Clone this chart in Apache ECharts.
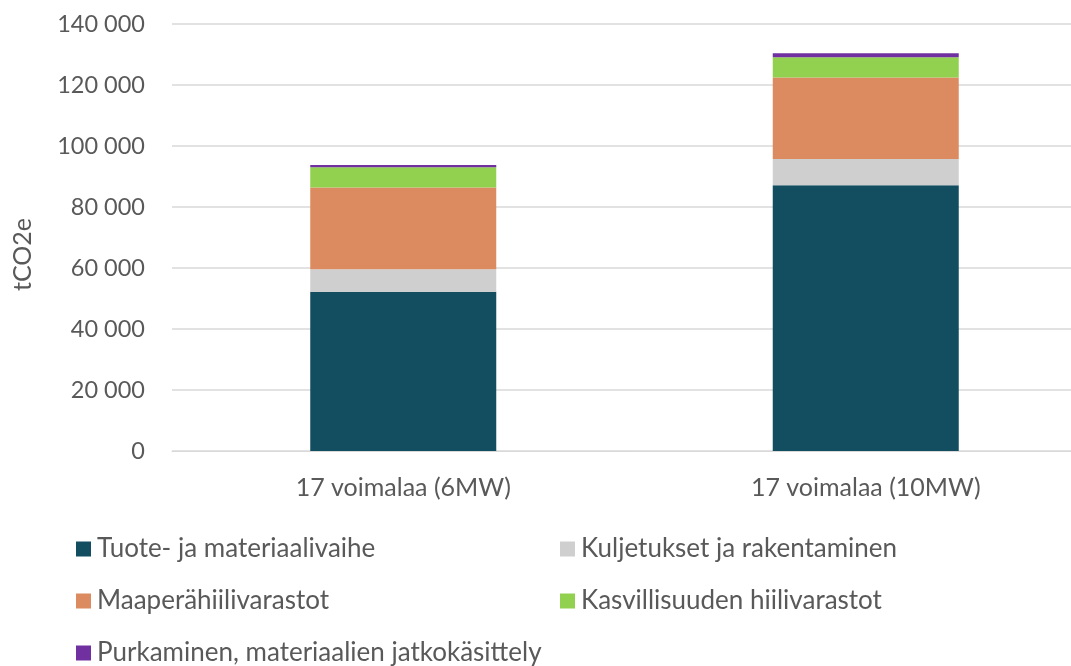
<!DOCTYPE html>
<html>
<head>
<meta charset="utf-8">
<script src="https://cdn.jsdelivr.net/npm/echarts@6/dist/echarts.min.js"></script>
<style>
  html, body { margin: 0; padding: 0; background: #ffffff; overflow: hidden; }
  /* plot area runs past the right edge of the window */
  #chart { width: 1100px; height: 666px; }
</style>
</head>
<body>
<div id="chart"></div>
<script>
// Categories and stacked emission components (tCO2e)
const categories = ['17 voimalaa (6MW)', '17 voimalaa (10MW)'];
const seriesNames = [
  'Tuote- ja materiaalivaihe',
  'Kuljetukset ja rakentaminen',
  'Maaperähiilivarastot',
  'Kasvillisuuden hiilivarastot',
  'Purkaminen, materiaalien jatkokäsittely'
];
const tuote = [52200, 87100];
const kuljetukset = [7400, 8600];
const maapera = [26800, 26800];
const kasvillisuus = [6600, 6600];
const purkaminen = [750, 1300];
const seriesValues = [tuote, kuljetukset, maapera, kasvillisuus, purkaminen];
const colors = ['#124E60', '#D0CFCF', '#DB8B5F', '#92D050', '#7030A0'];

const FONT = 'Lato';
const TEXT = '#595959';

const fmt = v => String(v).replace(/\B(?=(\d{3})+(?!\d))/g, ' ');

// Legend positions laid out in two columns
const legendPos = [
  { left: 76, top: 536 },
  { left: 560, top: 536 },
  { left: 76, top: 588 },
  { left: 560, top: 588 },
  { left: 76, top: 640 }
];

const chart = echarts.init(document.getElementById('chart'), null, { renderer: 'canvas' });
chart.setOption({
  animation: false,
  color: colors,
  grid: { left: 172, top: 24, bottom: 215, width: 925, containLabel: false },
  xAxis: {
    type: 'category',
    data: categories,
    axisLine: { lineStyle: { color: '#D9D9D9', width: 1 } },
    axisTick: { show: false },
    axisLabel: { color: TEXT, fontFamily: FONT, fontSize: 25, margin: 24 }
  },
  yAxis: {
    type: 'value',
    min: 0,
    max: 140000,
    interval: 20000,
    name: 'tCO2e',
    nameLocation: 'middle',
    nameGap: 137,
    nameTextStyle: { color: TEXT, fontFamily: FONT, fontSize: 25, padding: [0, 0, 0, -34] },
    axisLine: { show: false },
    axisTick: { show: false },
    splitLine: { lineStyle: { color: '#D9D9D9', width: 1.5 } },
    axisLabel: { color: TEXT, fontFamily: FONT, fontSize: 23.5, margin: 27, formatter: fmt }
  },
  legend: seriesNames.map((n, i) => ({
    data: [n],
    left: legendPos[i].left,
    top: legendPos[i].top,
    padding: 0,
    itemWidth: 15,
    itemHeight: 15,
    itemGap: 0,
    icon: 'rect',
    textStyle: { color: TEXT, fontFamily: FONT, fontSize: 26, padding: [0, 0, 0, 1] }
  })),
  series: seriesNames.map((n, i) => ({
    name: n,
    type: 'bar',
    stack: 'total',
    barWidth: 186,
    data: seriesValues[i],
    itemStyle: { color: colors[i] }
  }))
});
</script>
</body>
</html>
